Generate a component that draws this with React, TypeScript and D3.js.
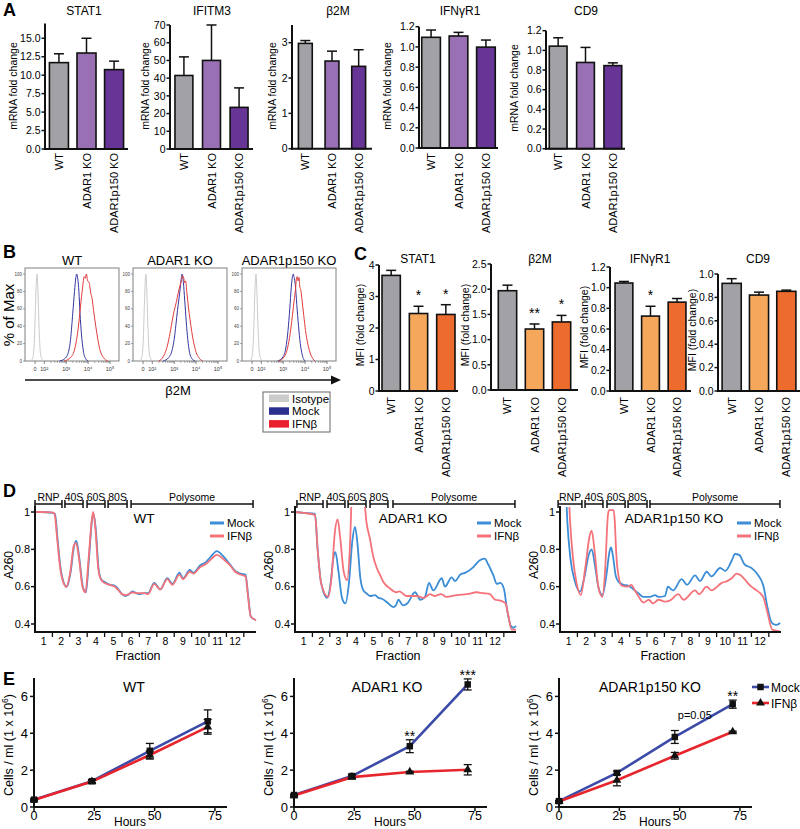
import React from "react";
import * as d3 from "d3";

const FONT = "'Liberation Sans', Arial, Helvetica, sans-serif";

// ---------------- DATA ----------------
const groups = ["WT", "ADAR1 KO", "ADAR1p150 KO"];

// Panel A – mRNA fold change (mean, SEM)
const aTitles = ["STAT1", "IFITM3", "β2M", "IFNγR1", "CD9"];
const aStat1Mean = [11.7, 13.0, 10.75];
const aStat1Sem = [1.2, 2.0, 1.15];
const aIfitm3Mean = [41.5, 50.0, 23.5];
const aIfitm3Sem = [10.5, 20.0, 11.0];
const aB2mMean = [2.98, 2.48, 2.33];
const aB2mSem = [0.08, 0.28, 0.47];
const aIfngr1Mean = [1.095, 1.108, 0.998];
const aIfngr1Sem = [0.072, 0.036, 0.07];
const aCd9Mean = [1.043, 0.877, 0.845];
const aCd9Sem = [0.085, 0.153, 0.028];
const aStat1Ticks = [0, 2.5, 5, 7.5, 10, 12.5, 15];
const aIfitm3Ticks = [0, 10, 20, 30, 40, 50, 60, 70];
const aB2mTicks = [0, 1, 2, 3];
const aIfngr1Ticks = [0, 0.2, 0.4, 0.6, 0.8, 1.0, 1.2];
const aCd9Ticks = [0, 0.2, 0.4, 0.6, 0.8, 1.0, 1.2];

// Panel C – MFI fold change (mean, SEM, significance)
const cTitles = ["STAT1", "β2M", "IFNγR1", "CD9"];
const cStat1Mean = [3.67, 2.46, 2.43];
const cStat1Sem = [0.16, 0.23, 0.31];
const cStat1Stars = ["", "*", "*"];
const cB2mMean = [1.97, 1.21, 1.35];
const cB2mSem = [0.11, 0.1, 0.13];
const cB2mStars = ["", "**", "*"];
const cIfngr1Mean = [1.045, 0.725, 0.86];
const cIfngr1Sem = [0.015, 0.095, 0.035];
const cIfngr1Stars = ["", "*", ""];
const cCd9Mean = [0.92, 0.82, 0.852];
const cCd9Sem = [0.04, 0.025, 0.01];
const cCd9Stars = ["", "", ""];
const cStat1Ticks = [0, 1, 2, 3, 4];
const cB2mTicks = [0, 0.5, 1.0, 1.5, 2.0, 2.5];
const cIfngr1Ticks = [0, 0.2, 0.4, 0.6, 0.8, 1.0, 1.2];
const cCd9Ticks = [0, 0.2, 0.4, 0.6, 0.8, 1.0];

// Panel B – histograms: [log10 decade, % of max]
const bTitles = ["WT", "ADAR1 KO", "ADAR1p150 KO"];
const bWtIso = [[1.38, 0], [1.48, 4], [1.55, 25], [1.6, 65], [1.65, 97], [1.67, 100], [1.71, 80], [1.76, 40], [1.82, 10], [1.9, 2], [2.0, 0]];
const bWtMock = [[2.7, 0], [2.95, 3], [3.1, 10], [3.2, 25], [3.3, 55], [3.38, 80], [3.44, 96], [3.48, 100], [3.53, 94], [3.58, 80], [3.63, 55], [3.7, 30], [3.78, 12], [3.88, 3], [4.0, 0]];
const bWtIfn = [[2.9, 0], [3.2, 4], [3.4, 15], [3.55, 38], [3.65, 62], [3.75, 85], [3.82, 97], [3.87, 95], [3.92, 100], [3.98, 92], [4.05, 90], [4.12, 78], [4.18, 72], [4.25, 58], [4.35, 40], [4.45, 24], [4.55, 12], [4.7, 4], [4.9, 0]];
const bKoIso = [[1.42, 0], [1.52, 4], [1.59, 25], [1.64, 65], [1.69, 97], [1.71, 100], [1.75, 80], [1.8, 40], [1.86, 10], [1.94, 2], [2.04, 0]];
const bKoMock = [[2.5, 0], [2.75, 4], [2.9, 12], [3.0, 25], [3.08, 42], [3.15, 58], [3.22, 72], [3.28, 85], [3.33, 96], [3.36, 100], [3.42, 90], [3.48, 70], [3.55, 45], [3.62, 25], [3.7, 10], [3.8, 3], [3.95, 0]];
const bKoIfn = [[2.3, 0], [2.5, 5], [2.65, 14], [2.78, 28], [2.9, 45], [3.0, 58], [3.1, 68], [3.18, 78], [3.25, 85], [3.32, 92], [3.38, 98], [3.43, 96], [3.48, 90], [3.52, 92], [3.58, 78], [3.65, 62], [3.72, 48], [3.8, 34], [3.9, 20], [4.0, 10], [4.12, 4], [4.3, 0]];
const bP150Iso = [[1.47, 0], [1.57, 4], [1.64, 25], [1.69, 65], [1.74, 97], [1.76, 100], [1.8, 80], [1.85, 40], [1.91, 10], [1.99, 2], [2.09, 0]];
const bP150Mock = [[2.75, 0], [3.0, 5], [3.12, 15], [3.22, 35], [3.3, 60], [3.37, 85], [3.42, 97], [3.46, 100], [3.5, 96], [3.55, 88], [3.62, 65], [3.7, 40], [3.78, 20], [3.87, 7], [4.0, 0]];
const bP150Ifn = [[2.8, 0], [3.05, 5], [3.2, 15], [3.32, 32], [3.42, 52], [3.5, 70], [3.56, 82], [3.6, 94], [3.64, 97], [3.68, 92], [3.72, 96], [3.76, 85], [3.8, 82], [3.86, 70], [3.94, 52], [4.02, 35], [4.12, 20], [4.25, 8], [4.45, 0]];
const bXTickVals = [1.58, 2, 3, 4, 5];
const bXTickLabels = ["0", "10²", "10³", "10⁴", "10⁵"];
const bYTicks = [0, 20, 40, 60, 80, 100];
const bLegend = ["Isotype", "Mock", "IFNβ"];

// Panel D – polysome profiles: [fraction position, A260]
const dTitles = ["WT", "ADAR1 KO", "ADAR1p150 KO"];
const dRegions = ["RNP", "40S", "60S", "80S", "Polysome"];
const dWtBrackets = [[0, 1.55], [1.72, 2.76], [2.99, 4.02], [4.2, 5.29], [5.52, 12.53]];
const dKoBrackets = [[0.11, 1.61], [1.84, 2.87], [3.05, 4.08], [4.31, 5.34], [5.63, 12.64]];
const dP150Brackets = [[-0.11, 1.26], [1.44, 2.47], [2.7, 3.74], [3.91, 5.0], [5.17, 12.64]];
const dWtMock = [[0, 1.0], [0.3, 1.0], [1.0, 0.995], [1.15, 0.99], [1.3, 0.85], [1.5, 0.68], [1.82, 0.6], [2.05, 0.68], [2.25, 0.82], [2.38, 0.845], [2.55, 0.75], [2.75, 0.6], [2.93, 0.57], [3.1, 0.75], [3.3, 0.97], [3.38, 0.985], [3.5, 0.9], [3.65, 0.7], [3.8, 0.64], [4.0, 0.625], [4.3, 0.61], [4.6, 0.605], [4.8, 0.585], [5.0, 0.56], [5.2, 0.55], [5.4, 0.56], [5.6, 0.575], [5.8, 0.565], [6.0, 0.56], [6.3, 0.565], [6.5, 0.565], [6.85, 0.62], [7.2, 0.585], [7.6, 0.645], [7.9, 0.615], [8.3, 0.675], [8.5, 0.645], [8.9, 0.69], [9.1, 0.675], [9.5, 0.715], [9.8, 0.73], [10.1, 0.76], [10.45, 0.79], [10.8, 0.765], [11.2, 0.72], [11.5, 0.685], [11.8, 0.67], [12.1, 0.665], [12.25, 0.55], [12.4, 0.44], [12.7, 0.42]];
const dWtIfn = [[0, 1.0], [0.3, 1.0], [1.0, 0.998], [1.12, 0.99], [1.28, 0.85], [1.48, 0.68], [1.8, 0.6], [2.03, 0.68], [2.23, 0.82], [2.36, 0.835], [2.53, 0.75], [2.73, 0.6], [2.9, 0.57], [3.08, 0.75], [3.28, 0.97], [3.35, 1.0], [3.48, 0.9], [3.63, 0.7], [3.78, 0.64], [4.0, 0.62], [4.3, 0.61], [4.6, 0.6], [4.8, 0.58], [5.0, 0.56], [5.2, 0.555], [5.4, 0.56], [5.6, 0.57], [5.8, 0.565], [6.0, 0.565], [6.3, 0.565], [6.5, 0.56], [6.85, 0.615], [7.2, 0.585], [7.6, 0.64], [7.9, 0.61], [8.3, 0.665], [8.5, 0.64], [8.9, 0.68], [9.1, 0.67], [9.5, 0.705], [9.8, 0.72], [10.1, 0.745], [10.45, 0.77], [10.8, 0.75], [11.2, 0.715], [11.5, 0.68], [11.8, 0.665], [12.1, 0.655], [12.25, 0.54], [12.4, 0.44], [12.7, 0.42]];
const dKoMock = [[0, 1.0], [0.5, 0.995], [1.15, 0.99], [1.3, 0.8], [1.5, 0.62], [1.85, 0.54], [2.05, 0.62], [2.2, 0.75], [2.32, 0.785], [2.5, 0.68], [2.7, 0.54], [2.9, 0.51], [3.1, 0.62], [3.3, 0.85], [3.45, 0.92], [3.6, 0.82], [3.75, 0.65], [3.93, 0.58], [4.1, 0.565], [4.31, 0.55], [4.6, 0.555], [4.8, 0.54], [5.0, 0.535], [5.3, 0.515], [5.65, 0.49], [5.8, 0.5], [5.94, 0.53], [6.2, 0.5], [6.45, 0.51], [6.9, 0.57], [7.2, 0.53], [7.47, 0.545], [7.7, 0.62], [7.95, 0.58], [8.43, 0.645], [8.62, 0.6], [9.0, 0.65], [9.2, 0.63], [9.5, 0.665], [9.8, 0.675], [10.25, 0.705], [10.6, 0.74], [10.9, 0.75], [11.1, 0.72], [11.4, 0.66], [11.6, 0.615], [11.8, 0.62], [12.0, 0.59], [12.2, 0.47], [12.4, 0.39], [12.55, 0.38], [12.7, 0.39]];
const dKoIfn = [[0, 1.0], [0.5, 0.995], [1.15, 0.985], [1.3, 0.8], [1.5, 0.62], [1.9, 0.545], [2.1, 0.65], [2.3, 0.9], [2.45, 0.96], [2.6, 0.86], [2.8, 0.68], [3.0, 0.635], [3.15, 0.8], [3.3, 1.15], [3.6, 1.2], [3.95, 1.1], [4.1, 0.95], [4.3, 0.86], [4.5, 0.76], [4.7, 0.7], [4.9, 0.66], [5.08, 0.625], [5.46, 0.59], [5.84, 0.57], [6.0, 0.575], [6.4, 0.55], [6.97, 0.55], [7.4, 0.54], [7.76, 0.56], [8.0, 0.55], [8.4, 0.56], [8.7, 0.545], [9.3, 0.555], [9.9, 0.56], [10.44, 0.57], [10.8, 0.565], [11.2, 0.56], [11.5, 0.53], [11.8, 0.525], [12.1, 0.51], [12.25, 0.45], [12.45, 0.37], [12.7, 0.37]];
const dP150Mock = [[0, 1.5], [0.3, 1.2], [0.42, 0.95], [0.6, 0.75], [0.85, 0.63], [1.15, 0.573], [1.4, 0.65], [1.65, 0.77], [1.82, 0.8], [2.0, 0.72], [2.2, 0.6], [2.44, 0.555], [2.65, 0.65], [2.85, 0.79], [2.93, 0.81], [3.05, 0.76], [3.2, 0.66], [3.36, 0.627], [3.64, 0.61], [3.93, 0.605], [4.1, 0.595], [4.3, 0.58], [4.5, 0.565], [4.79, 0.545], [5.17, 0.545], [5.46, 0.555], [5.65, 0.545], [6.03, 0.55], [6.2, 0.6], [6.5, 0.58], [6.99, 0.64], [7.3, 0.61], [7.76, 0.66], [8.05, 0.63], [8.43, 0.68], [8.7, 0.655], [9.2, 0.7], [9.5, 0.685], [9.87, 0.74], [10.06, 0.775], [10.3, 0.77], [10.6, 0.72], [11.0, 0.7], [11.4, 0.66], [11.7, 0.6], [11.9, 0.5], [12.1, 0.42], [12.25, 0.4], [12.45, 0.395], [12.65, 0.405]];
const dP150Ifn = [[0, 1.5], [0.45, 1.2], [0.58, 0.95], [0.75, 0.75], [0.95, 0.62], [1.2, 0.555], [1.45, 0.7], [1.7, 0.87], [1.82, 0.9], [2.0, 0.78], [2.2, 0.6], [2.44, 0.545], [2.6, 0.7], [2.75, 0.98], [2.82, 1.01], [3.08, 1.01], [3.15, 0.95], [3.22, 0.8], [3.3, 0.7], [3.55, 0.605], [3.9, 0.6], [4.1, 0.61], [4.3, 0.58], [4.5, 0.55], [4.8, 0.515], [5.1, 0.53], [5.35, 0.51], [5.65, 0.53], [6.03, 0.52], [6.3, 0.525], [6.8, 0.56], [7.1, 0.53], [7.76, 0.58], [8.0, 0.56], [8.43, 0.6], [8.7, 0.58], [9.3, 0.62], [9.6, 0.63], [9.87, 0.645], [10.15, 0.67], [10.4, 0.66], [10.6, 0.64], [11.0, 0.6], [11.3, 0.58], [11.5, 0.565], [11.7, 0.54], [11.9, 0.47], [12.2, 0.37], [12.65, 0.36]];
const dYTicks = [0.4, 0.6, 0.8, 1.0];
const dFractions = d3.range(1, 13);

// Panel E – growth curves (cells/ml ×10^6)
const eHours = [0, 24, 48, 72];
const eTitles = ["WT", "ADAR1 KO", "ADAR1p150 KO"];
const eWtMock = [0.4, 1.4, 3.05, 4.65];
const eWtMockSem = [0.05, 0.08, 0.4, 0.62];
const eWtIfn = [0.38, 1.38, 2.82, 4.35];
const eWtIfnSem = [0.05, 0.06, 0.22, 0.4];
const eKoMock = [0.65, 1.68, 3.3, 6.65];
const eKoMockSem = [0.05, 0.1, 0.35, 0.3];
const eKoIfn = [0.62, 1.62, 1.9, 2.02];
const eKoIfnSem = [0.05, 0.08, 0.04, 0.28];
const eP150Mock = [0.32, 1.85, 3.8, 5.58];
const eP150MockSem = [0.04, 0.1, 0.35, 0.22];
const eP150Ifn = [0.3, 1.45, 2.78, 4.08];
const eP150IfnSem = [0.04, 0.3, 0.18, 0.04];
const eWtStars = ["", "", "", ""];
const eKoStars = ["", "", "**", "***"];
const eP150Stars = ["", "", "", "**"];
const eXTicks = [0, 25, 50, 75];
const eYTicks = [0, 2, 4, 6];

// ---------------- STYLE ----------------
const purpleColors = ["#a2a2a6", "#9a70b5", "#663595"];
const orangeColors = ["#a2a2a6", "#f5a85c", "#ec6b2d"];
const D_BLUE = "#3a8dd6";
const D_RED = "#f4737a";
const E_BLUE = "#3c4ba8";
const E_RED = "#e6262c";
const H_ISO = "#cbcbcb";
const H_MOCK = "#3535a0";
const H_IFN = "#e23b3b";
const INK = "#111";

type BarLayout = {
  x0: number; x1: number; yTop: number; yBase: number; pi: number; po: number;
  titleX: number; titleY: number; ylabX: number; ylabY: number; labY: number;
};

function BarChart(props: {
  lay: BarLayout; yMax: number; title: string; ylabel: string; means: number[]; sems: number[];
  ticks: number[]; fmt: string; colors: string[]; stars?: string[];
}) {
  const { lay, yMax, title, ylabel, means, sems, ticks, fmt, colors, stars } = props;
  const x = d3.scaleBand<string>().domain(groups).range([lay.x0, lay.x1]).paddingInner(lay.pi).paddingOuter(lay.po);
  const y = d3.scaleLinear().domain([0, yMax]).range([lay.yBase, lay.yTop]);
  const f = d3.format(fmt);
  const bw = x.bandwidth();
  return (
    <g>
      <text x={lay.titleX} y={lay.titleY} textAnchor="middle" fontSize={12}>{title}</text>
      {groups.map((g, i) => {
        const bx = x(g) as number;
        const cx = bx + bw / 2;
        const top = y(means[i]);
        const et = y(means[i] + sems[i]);
        return (
          <g key={g}>
            <line x1={cx} x2={cx} y1={top} y2={et} stroke={INK} strokeWidth={1.5} />
            <line x1={cx - 5} x2={cx + 5} y1={et} y2={et} stroke={INK} strokeWidth={1.5} />
            <rect x={bx} y={top} width={bw} height={lay.yBase - top} fill={colors[i]} stroke={INK} strokeWidth={1.6} />
            {stars && stars[i] ? (
              <text x={cx} y={et - 6} textAnchor="middle" fontSize={14}>{stars[i]}</text>
            ) : null}
            <text transform={`translate(${cx + 4},${lay.labY}) rotate(-90)`} textAnchor="end" fontSize={11}>{g}</text>
          </g>
        );
      })}
      <line x1={lay.x0} x2={lay.x0} y1={y(yMax)} y2={lay.yBase + 1} stroke={INK} strokeWidth={2} />
      <line x1={lay.x0 - 1} x2={lay.x1} y1={lay.yBase} y2={lay.yBase} stroke={INK} strokeWidth={2} />
      {ticks.map((t) => (
        <g key={t}>
          <line x1={lay.x0 - 3.5} x2={lay.x0} y1={y(t)} y2={y(t)} stroke={INK} strokeWidth={1.5} />
          <text x={lay.x0 - 4.5} y={y(t) + 3.7} textAnchor="end" fontSize={10.5}>{f(t)}</text>
        </g>
      ))}
      <text transform={`translate(${lay.ylabX},${lay.ylabY}) rotate(-90)`} textAnchor="middle" fontSize={10.5}>{ylabel}</text>
    </g>
  );
}

function Histo(props: { bx0: number; title: string; iso: number[][]; mock: number[][]; ifn: number[][] }) {
  const { bx0, title, iso, mock, ifn } = props;
  const bx1 = bx0 + 94;
  const x = d3.scaleLinear().domain([1.12, 5.41]).range([bx0, bx1]);
  const y = d3.scaleLinear().domain([0, 100]).range([361, 274]);
  const line = d3.line<number[]>().x((d) => x(d[0])).y((d) => y(d[1])).curve(d3.curveMonotoneX);
  const minor: number[] = [];
  [2, 3, 4].forEach((dec) => d3.range(2, 10).forEach((k) => minor.push(dec + Math.log10(k))));
  return (
    <g>
      <text x={(bx0 + bx1) / 2} y={265} textAnchor="middle" fontSize={13}>{title}</text>
      <rect x={bx0} y={268} width={94} height={93} fill="none" stroke="#808080" strokeWidth={1} />
      <path d={line(iso) || ""} fill="none" stroke={H_ISO} strokeWidth={1} />
      <path d={line(mock) || ""} fill="none" stroke={H_MOCK} strokeWidth={1} />
      <path d={line(ifn) || ""} fill="none" stroke={H_IFN} strokeWidth={1} />
      {bYTicks.map((t) => (
        <g key={t}>
          <line x1={bx0 - 2} x2={bx0} y1={y(t)} y2={y(t)} stroke="#666" strokeWidth={0.6} />
          <text x={bx0 - 3} y={y(t) + 1.6} textAnchor="end" fontSize={4.5} fill="#444">{t}</text>
        </g>
      ))}
      {minor.map((m, i) => (
        <line key={i} x1={x(m)} x2={x(m)} y1={361} y2={363} stroke="#666" strokeWidth={0.5} />
      ))}
      {bXTickVals.map((v, i) => (
        <g key={v}>
          <line x1={x(v)} x2={x(v)} y1={361} y2={364} stroke="#555" strokeWidth={0.7} />
          <text x={x(v)} y={370.5} textAnchor="middle" fontSize={5.5} fill="#333">{bXTickLabels[i]}</text>
        </g>
      ))}
    </g>
  );
}

function Profile(props: {
  id: string; x0: number; title: string; titleX: number; mock: number[][]; ifn: number[][];
  brackets: number[][]; legX: number;
}) {
  const { id, x0, title, titleX, mock, ifn, brackets, legX } = props;
  const x = d3.scaleLinear().domain([0, 12.7]).range([x0, x0 + 221]);
  const y = d3.scaleLinear().domain([0.4, 1.0]).range([624, 512]);
  const line = d3.line<number[]>().x((d) => x(d[0])).y((d) => y(d[1])).curve(d3.curveMonotoneX);
  const fy = d3.format("~g");
  return (
    <g>
      <defs>
        <clipPath id={id}>
          <rect x={x0} y={507} width={224} height={128} />
        </clipPath>
      </defs>
      {brackets.map((b, i) => {
        const a = x(b[0]);
        const c = x(b[1]);
        return (
          <g key={i}>
            <line x1={a} x2={c} y1={504} y2={504} stroke={INK} strokeWidth={1.5} />
            <line x1={a} x2={a} y1={500} y2={508} stroke={INK} strokeWidth={1.5} />
            <line x1={c} x2={c} y1={500} y2={508} stroke={INK} strokeWidth={1.5} />
            <text x={(a + c) / 2} y={500.5} textAnchor="middle" fontSize={10.5}>{dRegions[i]}</text>
          </g>
        );
      })}
      <text x={titleX} y={523} textAnchor="middle" fontSize={13.5}>{title}</text>
      <g clipPath={`url(#${id})`}>
        <path d={line(mock) || ""} fill="none" stroke={D_BLUE} strokeWidth={1.8} />
        <path d={line(ifn) || ""} fill="none" stroke={D_RED} strokeWidth={1.8} />
      </g>
      <line x1={x0} x2={x0} y1={506} y2={633} stroke={INK} strokeWidth={2} />
      <line x1={x0 - 1} x2={x0 + 221} y1={632} y2={632} stroke={INK} strokeWidth={2} />
      {dYTicks.map((t) => (
        <g key={t}>
          <line x1={x0 - 4} x2={x0} y1={y(t)} y2={y(t)} stroke={INK} strokeWidth={1.5} />
          <text x={x0 - 5} y={y(t) + 3.8} textAnchor="end" fontSize={11}>{fy(t)}</text>
        </g>
      ))}
      {dFractions.map((k) => (
        <g key={k}>
          <line x1={x(k)} x2={x(k)} y1={632} y2={637} stroke={INK} strokeWidth={1.3} />
          <text x={x(k - 0.5)} y={645} textAnchor="middle" fontSize={10.5}>{k}</text>
        </g>
      ))}
      <text x={x0 + 103} y={659.5} textAnchor="middle" fontSize={12.5}>Fraction</text>
      <text transform={`translate(${x0 - 22},565) rotate(-90)`} textAnchor="middle" fontSize={12}>A260</text>
      <line x1={legX} x2={legX + 14} y1={523} y2={523} stroke={D_BLUE} strokeWidth={3} />
      <text x={legX + 17} y={527} fontSize={11.5}>Mock</text>
      <line x1={legX} x2={legX + 14} y1={536} y2={536} stroke={D_RED} strokeWidth={3} />
      <text x={legX + 17} y={540} fontSize={11.5}>IFNβ</text>
    </g>
  );
}

function Growth(props: {
  x0: number; title: string; titleX: number; mock: number[]; mockSem: number[]; ifn: number[]; ifnSem: number[];
  stars: string[]; legend?: boolean; pText?: boolean;
}) {
  const { x0, title, titleX, mock, mockSem, ifn, ifnSem, stars, legend, pText } = props;
  const x = d3.scaleLinear().domain([0, 80]).range([x0, x0 + 193]);
  const y = d3.scaleLinear().domain([0, 7]).range([807, 678]);
  const line = d3.line<number>().x((_, i) => x(eHours[i])).y((d) => y(d));
  const sq = d3.symbol().type(d3.symbolSquare).size(42)() || "";
  const tri = d3.symbol().type(d3.symbolTriangle).size(34)() || "";
  const errs = (vals: number[], sems: number[], key: string) =>
    vals.map((v, i) => (
      <g key={key + i}>
        <line x1={x(eHours[i])} x2={x(eHours[i])} y1={y(v - sems[i])} y2={y(v + sems[i])} stroke={INK} strokeWidth={1.3} />
        <line x1={x(eHours[i]) - 4} x2={x(eHours[i]) + 4} y1={y(v - sems[i])} y2={y(v - sems[i])} stroke={INK} strokeWidth={1.3} />
        <line x1={x(eHours[i]) - 4} x2={x(eHours[i]) + 4} y1={y(v + sems[i])} y2={y(v + sems[i])} stroke={INK} strokeWidth={1.3} />
      </g>
    ));
  return (
    <g>
      <text x={titleX} y={692} textAnchor="middle" fontSize={14}>{title}</text>
      <path d={line(mock) || ""} fill="none" stroke={E_BLUE} strokeWidth={2.6} />
      <path d={line(ifn) || ""} fill="none" stroke={E_RED} strokeWidth={2.6} />
      {errs(mock, mockSem, "m")}
      {errs(ifn, ifnSem, "f")}
      {mock.map((v, i) => (
        <path key={"ms" + i} d={sq} transform={`translate(${x(eHours[i])},${y(v)})`} fill={INK} />
      ))}
      {ifn.map((v, i) => (
        <path key={"fs" + i} d={tri} transform={`translate(${x(eHours[i])},${y(v)})`} fill={INK} />
      ))}
      {stars.map((s, i) =>
        s ? (
          <text key={"st" + i} x={x(eHours[i])} y={y(mock[i] + mockSem[i]) + 1} textAnchor="middle" fontSize={14}>{s}</text>
        ) : null
      )}
      <line x1={x0} x2={x0} y1={678} y2={808} stroke={INK} strokeWidth={2} />
      <line x1={x0 - 1} x2={x0 + 193} y1={807} y2={807} stroke={INK} strokeWidth={2} />
      {eYTicks.map((t) => (
        <g key={t}>
          <line x1={x0 - 4} x2={x0} y1={y(t)} y2={y(t)} stroke={INK} strokeWidth={1.5} />
          <text x={x0 - 6} y={y(t) + 4.5} textAnchor="end" fontSize={13}>{t}</text>
        </g>
      ))}
      {eXTicks.map((t) => (
        <g key={t}>
          <line x1={x(t)} x2={x(t)} y1={807} y2={811} stroke={INK} strokeWidth={1.5} />
          <text x={x(t)} y={820} textAnchor="middle" fontSize={12.5}>{t}</text>
        </g>
      ))}
      <text x={x0 + 96} y={826} textAnchor="middle" fontSize={12}>Hours</text>
      <text transform={`translate(${x0 - 21},745) rotate(-90)`} textAnchor="middle" fontSize={12.5}>
        Cells / ml (1 x 10<tspan dy={-5} fontSize={8.5}>6</tspan><tspan dy={5}>)</tspan>
      </text>
      {pText ? (
        <text x={x(48) + 20} y={719} textAnchor="middle" fontSize={11}>p=0.05</text>
      ) : null}
      {legend ? (
        <g>
          <line x1={752} x2={769} y1={687} y2={687} stroke={E_BLUE} strokeWidth={2.6} />
          <path d={sq} transform="translate(760.5,687)" fill={INK} />
          <text x={771} y={691.5} fontSize={12}>Mock</text>
          <line x1={752} x2={769} y1={703} y2={703} stroke={E_RED} strokeWidth={2.6} />
          <path d={tri} transform="translate(760.5,703)" fill={INK} />
          <text x={771} y={707.5} fontSize={12}>IFNβ</text>
        </g>
      ) : null}
    </g>
  );
}

const aLay: BarLayout[] = [
  { x0: 45, x1: 128, yTop: 23.5, yBase: 149, pi: 0.31, po: 0.16, titleX: 84, titleY: 15, ylabX: 17, ylabY: 86, labY: 153 },
  { x0: 170, x1: 253, yTop: 25, yBase: 149, pi: 0.35, po: 0.18, titleX: 212, titleY: 15, ylabX: 149, ylabY: 86, labY: 153 },
  { x0: 292, x1: 372, yTop: 25, yBase: 148.7, pi: 0.48, po: 0.24, titleX: 338, titleY: 15, ylabX: 276, ylabY: 86, labY: 153 },
  { x0: 419, x1: 498, yTop: 26.7, yBase: 148, pi: 0.32, po: 0.1, titleX: 460, titleY: 15, ylabX: 391, ylabY: 86, labY: 153 },
  { x0: 546, x1: 625, yTop: 30.7, yBase: 148.7, pi: 0.35, po: 0.12, titleX: 586, titleY: 15, ylabX: 518, ylabY: 88, labY: 153 },
];

const cLay: BarLayout[] = [
  { x0: 379, x1: 458, yTop: 265, yBase: 391, pi: 0.33, po: 0.11, titleX: 418, titleY: 263, ylabX: 364, ylabY: 325, labY: 397 },
  { x0: 491, x1: 578, yTop: 264, yBase: 390, pi: 0.32, po: 0.27, titleX: 540, titleY: 263, ylabX: 469, ylabY: 325, labY: 397 },
  { x0: 610, x1: 691, yTop: 267, yBase: 391, pi: 0.33, po: 0.19, titleX: 650, titleY: 263, ylabX: 588, ylabY: 327, labY: 397 },
  { x0: 718, x1: 800, yTop: 274, yBase: 391, pi: 0.3, po: 0.15, titleX: 758, titleY: 263, ylabX: 696, ylabY: 330, labY: 397 },
];

export default function App() {
  return (
    <svg
      width={800}
      height={829}
      viewBox="0 0 800 829"
      style={{ position: "absolute", left: 0, top: 0, background: "#fff" }}
      fontFamily={FONT}
    >
      <rect width={800} height={829} fill="#fff" />
      {/* Panel letters */}
      <text x={3} y={16} fontSize={18} fontWeight="bold">A</text>
      <text x={3} y={258} fontSize={18} fontWeight="bold">B</text>
      <text x={354} y={260} fontSize={18} fontWeight="bold">C</text>
      <text x={3} y={497} fontSize={18} fontWeight="bold">D</text>
      <text x={3} y={685} fontSize={18} fontWeight="bold">E</text>

      {/* Panel A */}
      <BarChart lay={aLay[0]} yMax={17} title={aTitles[0]} ylabel="mRNA fold change" means={aStat1Mean} sems={aStat1Sem} ticks={aStat1Ticks} fmt=".1f" colors={purpleColors} />
      <BarChart lay={aLay[1]} yMax={70} title={aTitles[1]} ylabel="mRNA fold change" means={aIfitm3Mean} sems={aIfitm3Sem} ticks={aIfitm3Ticks} fmt="d" colors={purpleColors} />
      <BarChart lay={aLay[2]} yMax={3.5} title={aTitles[2]} ylabel="mRNA fold change" means={aB2mMean} sems={aB2mSem} ticks={aB2mTicks} fmt="d" colors={purpleColors} />
      <BarChart lay={aLay[3]} yMax={1.2} title={aTitles[3]} ylabel="mRNA fold change" means={aIfngr1Mean} sems={aIfngr1Sem} ticks={aIfngr1Ticks} fmt=".1f" colors={purpleColors} />
      <BarChart lay={aLay[4]} yMax={1.2} title={aTitles[4]} ylabel="mRNA fold change" means={aCd9Mean} sems={aCd9Sem} ticks={aCd9Ticks} fmt=".1f" colors={purpleColors} />

      {/* Panel B */}
      <text transform="translate(14,315) rotate(-90)" textAnchor="middle" fontSize={15}>% of Max</text>
      <Histo bx0={25} title={bTitles[0]} iso={bWtIso} mock={bWtMock} ifn={bWtIfn} />
      <Histo bx0={133} title={bTitles[1]} iso={bKoIso} mock={bKoMock} ifn={bKoIfn} />
      <Histo bx0={242} title={bTitles[2]} iso={bP150Iso} mock={bP150Mock} ifn={bP150Ifn} />
      <line x1={25} x2={333} y1={380} y2={380} stroke={INK} strokeWidth={1.6} />
      <path d="M341,380 L331,375.5 L331,384.5 Z" fill={INK} />
      <text x={178} y={395} textAnchor="middle" fontSize={13}>β2M</text>
      <rect x={263} y={392} width={67} height={40} fill="#fff" stroke="#666" strokeWidth={1} />
      {bLegend.map((lbl, i) => (
        <g key={lbl}>
          <rect x={269} y={394.5 + i * 12.8} width={20} height={7.5} fill={[H_ISO, "#2b2f8f", "#e8202a"][i]} />
          <text x={292} y={402.5 + i * 12.8} fontSize={11.5}>{lbl}</text>
        </g>
      ))}

      {/* Panel C */}
      <BarChart lay={cLay[0]} yMax={4} title={cTitles[0]} ylabel="MFI (fold change)" means={cStat1Mean} sems={cStat1Sem} ticks={cStat1Ticks} fmt="d" colors={orangeColors} stars={cStat1Stars} />
      <BarChart lay={cLay[1]} yMax={2.5} title={cTitles[1]} ylabel="MFI (fold change)" means={cB2mMean} sems={cB2mSem} ticks={cB2mTicks} fmt=".1f" colors={orangeColors} stars={cB2mStars} />
      <BarChart lay={cLay[2]} yMax={1.2} title={cTitles[2]} ylabel="MFI (fold change)" means={cIfngr1Mean} sems={cIfngr1Sem} ticks={cIfngr1Ticks} fmt=".1f" colors={orangeColors} stars={cIfngr1Stars} />
      <BarChart lay={cLay[3]} yMax={1.0} title={cTitles[3]} ylabel="MFI (fold change)" means={cCd9Mean} sems={cCd9Sem} ticks={cCd9Ticks} fmt=".1f" colors={orangeColors} stars={cCd9Stars} />

      {/* Panel D */}
      <Profile id="clipD1" x0={35} title={dTitles[0]} titleX={144} mock={dWtMock} ifn={dWtIfn} brackets={dWtBrackets} legX={210} />
      <Profile id="clipD2" x0={295} title={dTitles[1]} titleX={413} mock={dKoMock} ifn={dKoIfn} brackets={dKoBrackets} legX={477} />
      <Profile id="clipD3" x0={560} title={dTitles[2]} titleX={674} mock={dP150Mock} ifn={dP150Ifn} brackets={dP150Brackets} legX={737} />

      {/* Panel E */}
      <Growth x0={34} title={eTitles[0]} titleX={134} mock={eWtMock} mockSem={eWtMockSem} ifn={eWtIfn} ifnSem={eWtIfnSem} stars={eWtStars} />
      <Growth x0={294} title={eTitles[1]} titleX={387} mock={eKoMock} mockSem={eKoMockSem} ifn={eKoIfn} ifnSem={eKoIfnSem} stars={eKoStars} />
      <Growth x0={559} title={eTitles[2]} titleX={650} mock={eP150Mock} mockSem={eP150MockSem} ifn={eP150Ifn} ifnSem={eP150IfnSem} stars={eP150Stars} legend pText />
    </svg>
  );
}
